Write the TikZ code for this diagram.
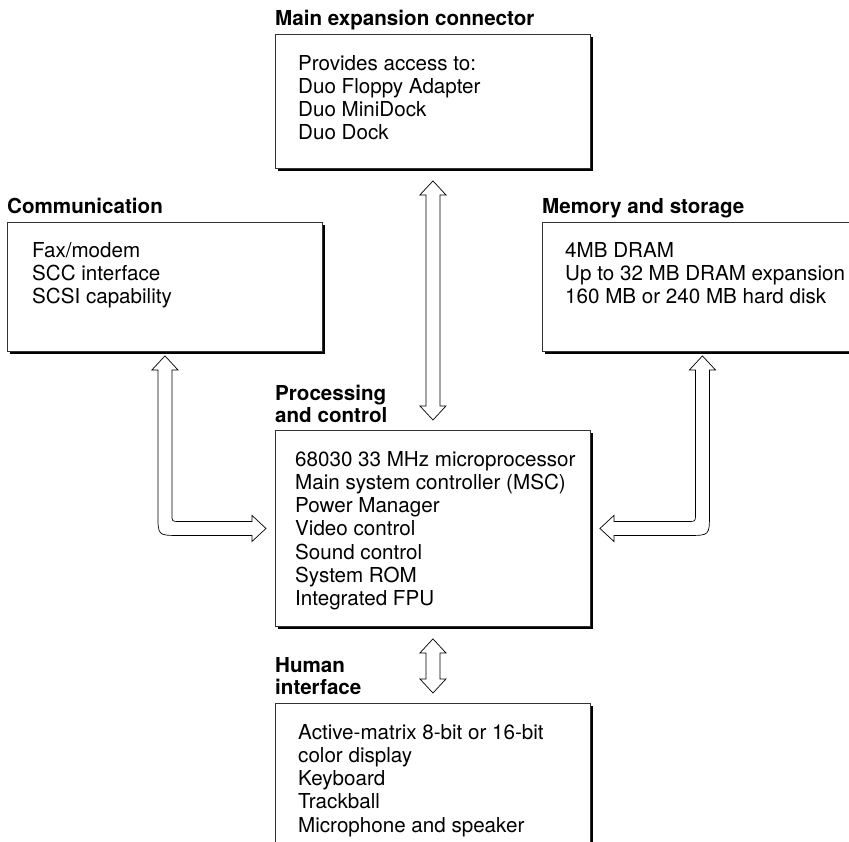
\documentclass[tikz,border=0pt]{standalone}
\usepackage{fontspec}
\setmainfont{TeX Gyre Heros}
\usetikzlibrary{positioning,calc,shadows}

% hollow double arrow between two boxes, one above the other
\newcommand{\vbus}[2]{%
  \draw[bus] let \p1=($(#1.south)+(0,12)$), \p2=($(#2.north)+(0,-10)$) in
    (\x1,\y1) -- ++(13pt,-14pt) -- ++(-6pt,0pt) -- (\x1+7pt,\y2+14pt)
    -- ++(6pt,0pt) -- (\x2,\y2) -- ++(-13pt,14pt) -- ++(6pt,0pt)
    -- (\x1-7pt,\y1-14pt) -- ++(-6pt,0pt) -- cycle;}

\begin{document}
\begin{tikzpicture}
  [x=1pt,y=-1pt,
   every node/.style={inner sep=0pt,font=\fontsize{20.6}{23.2}\selectfont},
   box/.style={draw=black!80,line width=0.9pt,fill=white,anchor=north west,
     drop shadow={shadow xshift=2.5pt,shadow yshift=-2.5pt,fill=black,opacity=1}},
   title/.style={anchor=base west,align=left,
     font=\fontsize{20.6}{22}\selectfont\bfseries},
   lines/.style={anchor=north west,align=left},
   bus/.style={draw=black,line width=0.7pt,fill=white}]
  \useasboundingbox (0,0) rectangle (849,841);
  \clip (0,0) rectangle (849,841);

  % boxes
  \node[box,minimum width=315,minimum height=134] (main) at (275,34) {};
  \node[box,minimum width=315,minimum height=129] (comm) at (7,222) {};
  \node[box,minimum width=320,minimum height=129] (mem) at (542,222) {};
  \node[box,minimum width=315,minimum height=196] (proc) at (275,430) {};
  \node[box,minimum width=315,minimum height=200] (human) at (275,703) {};

  % titles (base = last line)
  \node[title] (maintitle) at ([shift={(0,-9)}]main.north west) {Main expansion connector};
  \node[title] (commtitle) at ([shift={(0,-9)}]comm.north west) {Communication};
  \node[title] (memtitle) at ([shift={(0,-9)}]mem.north west) {Memory and storage};
  \node[title] (proctitle) at ([shift={(0,-8)}]proc.north west) {Processing\\and control};
  \node[title] (humantitle) at ([shift={(0,-9)}]human.north west) {Human\\interface};

  % contents
  \node[lines] (maintext) at ([shift={(23,21)}]main.north west)
    {Provides access to:\\Duo Floppy Adapter\\Duo MiniDock\\Duo Dock};
  \node[lines] (commtext) at ([shift={(25,20)}]comm.north west)
    {Fax/modem\\SCC interface\\SCSI capability};
  \node[lines] (memtext) at ([shift={(23,20)}]mem.north west)
    {4MB DRAM\\Up to 32 MB DRAM expansion\\160 MB or 240 MB hard disk};
  \node[lines] (proctext) at ([shift={(20,21)}]proc.north west)
    {68030 33 MHz microprocessor\\Main system controller (MSC)\\Power Manager\\
     Video control\\Sound control\\System ROM\\Integrated FPU};
  \node[lines] (humantext) at ([shift={(23,21)}]human.north west)
    {Active-matrix 8-bit or 16-bit\\color display\\Keyboard\\Trackball\\
     Microphone and speaker};

  % buses
  \vbus{main}{proc}
  \vbus{proc}{human}
  \draw[bus] let \p1=($(comm.south)+(0,4)$), \p2=($(proc.west)+(-9,0)$) in
    (\x1,\y1) -- ++(13pt,-14pt) -- ++(-6pt,0pt) -- (\x1+7pt,\y2+14pt)
    .. controls (\x1+7pt,\y2+7pt) .. (\x1+14pt,\y2+7pt)
    -- (\x2-14pt,\y2+7pt) -- ++(0pt,6pt) -- (\x2,\y2) -- ++(-14pt,-13pt)
    -- ++(0pt,6pt) -- (\x1+14pt,\y2-7pt)
    .. controls (\x1-7pt,\y2-7pt) .. (\x1-7pt,\y2+14pt)
    -- (\x1-7pt,\y1-14pt) -- ++(-6pt,0pt) -- cycle;
  \draw[bus] let \p1=($(mem.south)+(0,4)$), \p2=($(proc.east)+(9,0)$) in
    (\x1,\y1) -- ++(13pt,-14pt) -- ++(-6pt,0pt) -- (\x1+7pt,\y2+14pt)
    .. controls (\x1+7pt,\y2-7pt) .. (\x1-14pt,\y2-7pt)
    -- (\x2+14pt,\y2-7pt) -- ++(0pt,-6pt) -- (\x2,\y2) -- ++(14pt,13pt)
    -- ++(0pt,-6pt) -- (\x1-14pt,\y2+7pt)
    .. controls (\x1-7pt,\y2+7pt) .. (\x1-7pt,\y2+14pt)
    -- (\x1-7pt,\y1-14pt) -- ++(-6pt,0pt) -- cycle;
\end{tikzpicture}
\end{document}
